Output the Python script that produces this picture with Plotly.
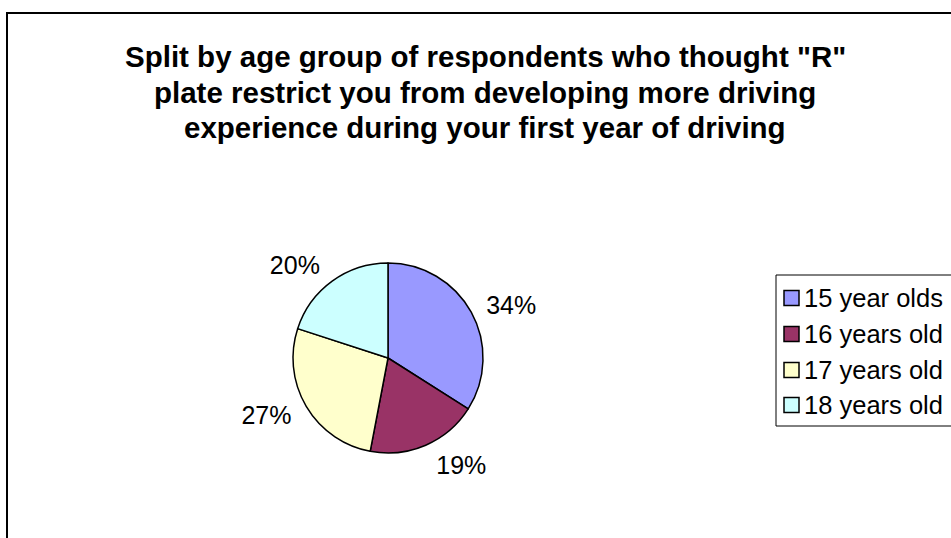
import plotly.graph_objects as go

W, H = 951, 538

labels = ["15 year olds", "16 years old", "17 years old", "18 years old"]
values = [34, 19, 27, 20]
slice_colors = ["#9999FF", "#993366", "#FFFFCC", "#CCFFFF"]

title_lines = [
    'Split by age group of respondents who thought "R"',
    "plate restrict you from developing more driving",
    "experience during your first year of driving",
]

FONT = "Liberation Sans, Arial, sans-serif"


def px_x(x):
    return x / W


def px_y(y):
    return 1 - y / H


cx, cy, r = 388, 358, 95
lab_r = 104  # labels sit a bit further out than plotly's default gap

fig = go.Figure()
fig.add_trace(go.Pie(
    labels=labels,
    values=values,
    sort=False,
    direction="clockwise",
    rotation=0,
    marker=dict(colors=slice_colors, line=dict(color="black", width=1.5)),
    textinfo="none",
    showlegend=False,
    hoverinfo="label+percent",
    domain=dict(x=[px_x(cx - r), px_x(cx + r)], y=[px_y(cy + r), px_y(cy - r)]),
))
# invisible twin pie used only to place the percent labels
fig.add_trace(go.Pie(
    labels=labels,
    values=values,
    sort=False,
    direction="clockwise",
    rotation=0,
    marker=dict(colors=["rgba(0,0,0,0)"] * len(values), line=dict(width=0)),
    textinfo="percent",
    textposition="outside",
    outsidetextfont=dict(family=FONT, size=25, color="black"),
    showlegend=False,
    hoverinfo="skip",
    domain=dict(x=[px_x(cx - lab_r), px_x(cx + lab_r)], y=[px_y(cy + lab_r), px_y(cy - lab_r)]),
))

shapes = [
    # chart frame (runs off the right and bottom edges)
    dict(type="rect", xref="paper", yref="paper",
         x0=px_x(7), x1=1.2, y0=-0.2, y1=px_y(13),
         line=dict(color="black", width=2), fillcolor="rgba(0,0,0,0)", layer="below"),
    # legend box
    dict(type="rect", xref="paper", yref="paper",
         x0=px_x(776), x1=1.2, y0=px_y(426), y1=px_y(275),
         line=dict(color="black", width=1), fillcolor="white", layer="below"),
]
annotations = []
for line, yy in zip(title_lines, [57, 92, 127]):
    annotations.append(dict(text="<b>" + line + "</b>", xref="paper", yref="paper",
                            x=px_x(485), y=px_y(yy), xanchor="center", yanchor="middle",
                            showarrow=False, font=dict(family=FONT, size=29.5, color="black")))

item_y = [298, 334, 370, 405]
for name, col, yy in zip(labels, slice_colors, item_y):
    shapes.append(dict(type="rect", xref="paper", yref="paper",
                       x0=px_x(784), x1=px_x(799), y0=px_y(yy + 7.5), y1=px_y(yy - 7.5),
                       line=dict(color="black", width=1.5), fillcolor=col))
    annotations.append(dict(text=name, xref="paper", yref="paper",
                            x=px_x(802), y=px_y(yy), xanchor="left", yanchor="middle",
                            showarrow=False, font=dict(family=FONT, size=25.5, color="black")))

fig.update_layout(
    width=W,
    height=H,
    margin=dict(l=0, r=0, t=0, b=0),
    paper_bgcolor="white",
    plot_bgcolor="white",
    font=dict(family=FONT, color="black"),
    shapes=shapes,
    annotations=annotations,
)

# drop the default page margin so the figure sits at the window's top-left corner
fig.write_html("out.html", config={"displayModeBar": False},
               post_script="document.body.style.margin='0';document.body.style.overflow='hidden';")
